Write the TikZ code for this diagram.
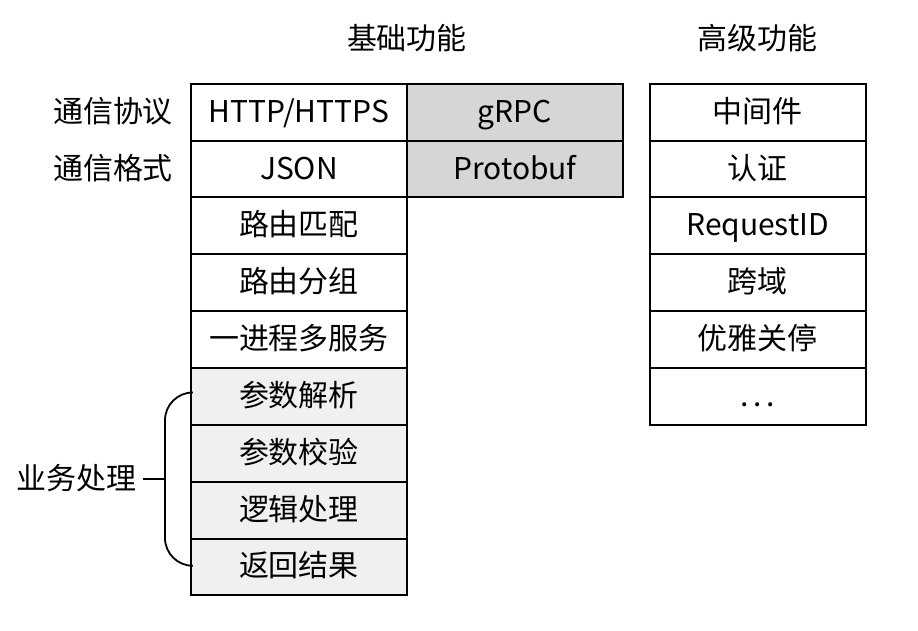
\documentclass[tikz,border=0pt]{standalone}
\usepackage{fontspec}
\setmainfont{Noto Sans CJK SC}
\usepackage{tikz}
\usetikzlibrary{calc}
\newcommand{\Height}{1cm}
\newcommand{\Width}{3.8cm}
\tikzset{WhiteSquare/.style={
    inner sep=0pt,
    minimum width=\Width,
    minimum height=\Height,
    text height=12pt,
    text depth=2pt,
    draw=black,
    fill=white,
    align=center
    }
}
\tikzset{GreySquare/.style={
    inner sep=0pt,
    minimum width=\Width,
    minimum height=\Height,
    text height=12pt,
    text depth=2pt,
    draw=black,
    fill=black!16,
    align=center
    }
}
\tikzset{LightGreySquare/.style={
    inner sep=0pt,
    minimum width=\Width,
    minimum height=\Height,
    text height=12pt,
    text depth=2pt,
    draw=black,
    fill=black!6,
    align=center
    }
}
\tikzset{RowLabel/.style={
    inner sep=0pt,
    text height=12pt,
    text depth=2pt,
    anchor=east
    }
}

\begin{document}
\begin{tikzpicture}[draw=black, line width=1pt, x=\Width, y=\Height, node distance=\Height,
    font=\fontsize{15pt}{18pt}\selectfont]
    \useasboundingbox (-1.384,1.974) rectangle (2.866,-9.114);

    % basic features
    \node (HTTP) [WhiteSquare] at (0,0) {HTTP/HTTPS};
    \node (JSON) [WhiteSquare, below of=HTTP] {JSON};
    \node (Match) [WhiteSquare, below of=JSON] {路由匹配};
    \node (Group) [WhiteSquare, below of=Match] {路由分组};
    \node (Multi) [WhiteSquare, below of=Group] {一进程多服务};
    \node (Parse) [LightGreySquare, below of=Multi] {参数解析};
    \node (Check) [LightGreySquare, below of=Parse] {参数校验};
    \node (Logic) [LightGreySquare, below of=Check] {逻辑处理};
    \node (Return) [LightGreySquare, below of=Logic] {返回结果};

    \node (gRPC) [GreySquare, right of=HTTP, xshift=2.8cm] {gRPC};
    \node (Proto) [GreySquare, below of=gRPC] {Protobuf};

    % advanced features
    \node (MW) [WhiteSquare, right of=gRPC, xshift=3.27cm] {中间件};
    \node (Auth) [WhiteSquare, below of=MW] {认证};
    \node (ReqID) [WhiteSquare, below of=Auth] {RequestID};
    \node (CORS) [WhiteSquare, below of=ReqID] {跨域};
    \node (Stop) [WhiteSquare, below of=CORS] {优雅关停};
    \node (More) [WhiteSquare, below of=Stop] {.\kern2.5pt.\kern2.5pt.};

    \node (Basic) at ($(HTTP)!0.5!(gRPC)+(0,1.307)$) {基础功能};
    \node (Advanced) [above of=MW, yshift=0.31cm] {高级功能};

    \node (Proto1) [RowLabel] at ($(HTTP.west)+(-8pt,0)$) {通信协议};
    \node (Format) [RowLabel] at ($(JSON.west)+(-8pt,0)$) {通信格式};

    % brace
    \coordinate (b1) at ($(Parse.west)+(0,0.07)$);
    \coordinate (b2) at ($(Return.west)+(0,0.02)$);
    \draw [line width=0.9pt, rounded corners=14pt] (b1) -- ($(b1)+(-12.5pt,0)$) -- ($(b2)+(-12.5pt,0)$) -- (b2);
    \coordinate (bm) at ($(b1)!0.5!(b2)+(-12.5pt,0)$);
    \draw [line width=0.9pt] (bm) -- ++(-11pt,0) coordinate (bt);
    \node (Biz) [RowLabel] at ($(bt)+(-3pt,0)$) {业务处理};

\end{tikzpicture}
\end{document}
